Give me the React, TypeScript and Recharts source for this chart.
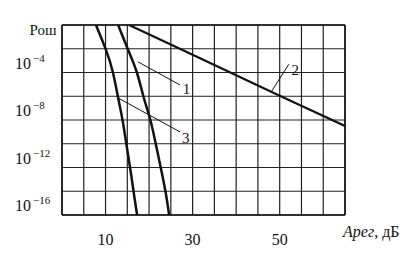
import { LineChart, Line, XAxis, YAxis, CartesianGrid, ReferenceLine, Label } from 'recharts';

// A reg, dB values, with log10(P) exponents
const curve1Db = [12.9, 15.2, 17.2, 18.8, 20.3, 21.7, 22.9, 23.9, 24.6];
const curve1Exp = [-1, -3.1, -5.0, -7.15, -9.0, -11.3, -13.4, -15.3, -17];
const curve2Db = [15.4, 30, 50, 65];
const curve2Exp = [-1, -3.5, -6.95, -9.5];
const curve3Db = [7.8, 10.1, 11.7, 12.9, 13.9, 14.9, 15.8, 16.55, 17.25];
const curve3Exp = [-1, -3.1, -5.0, -7.15, -9.0, -11.3, -13.4, -15.3, -17];

const xTicks = [10, 30, 50];
const xGrid = [0, 5, 10, 15, 20, 25, 30, 35, 40, 45, 50, 55, 60, 65];
const yTicks = [1e-4, 1e-8, 1e-12, 1e-16];
const yGrid = [1e-1, 1e-3, 1e-5, 1e-7, 1e-9, 1e-11, 1e-13, 1e-15, 1e-17];

const toRows = (db: number[], exp: number[]) => db.map((d, i) => ({ x: d, p: Math.pow(10, exp[i]) }));

const FONT = '"Liberation Serif", "DejaVu Serif", serif';

const YTick = (props: any) => {
  const { x, y, payload } = props;
  const exp = Math.round(Math.log10(payload.value));
  return (
    <text x={x - 45} y={y + 8} fontFamily={FONT} fontSize={16} fill="#111">
      <tspan>10</tspan>
      <tspan dx={2} dy={-7} fontSize={11}>{`−${-exp}`}</tspan>
    </text>
  );
};

const XTick = (props: any) => {
  const { x, y, payload } = props;
  const v = payload.value;
  return (
    <text x={x} y={y + 28} textAnchor="middle" fontFamily={FONT} fontSize={16} fill="#111">
      {v}
    </text>
  );
};

const leader = (x1: number, e1: number, x2: number, e2: number) => [
  { x: x1, y: Math.pow(10, e1) },
  { x: x2, y: Math.pow(10, e2) },
];

export default function App() {
  return (
    <div style={{ position: 'absolute', left: 0, top: 0, background: '#fff' }}>
      <LineChart width={410} height={256} margin={{ top: 25, right: 65, bottom: 0, left: 0 }}>
        <CartesianGrid
          stroke="#222"
          strokeWidth={1.2}
          horizontalValues={yGrid}
          verticalValues={xGrid}
        />
        <XAxis
          dataKey="x"
          type="number"
          domain={[0, 65]}
          ticks={xTicks}
          allowDataOverflow
          height={41}
          tickLine={false}
          tickSize={0}
          axisLine={{ stroke: '#111', strokeWidth: 1.5 }}
          tick={<XTick />}
        >
          <Label
            content={(p: any) => (
              <text x={p.viewBox.x + p.viewBox.width - 2} y={p.viewBox.y + 22} fontFamily={FONT} fontSize={16} fill="#111">
                <tspan fontStyle="italic">Арег</tspan>
                <tspan>, дБ</tspan>
              </text>
            )}
          />
        </XAxis>
        <YAxis
          dataKey="p"
          type="number"
          scale="log"
          domain={[1e-17, 1e-1]}
          allowDataOverflow
          ticks={yTicks}
          width={62}
          tickLine={false}
          tickSize={0}
          axisLine={{ stroke: '#111', strokeWidth: 1.5 }}
          tick={<YTick />}
        >
          <Label
            content={(p: any) => (
              <text x={p.viewBox.x + p.viewBox.width - 19} y={p.viewBox.y + 10} textAnchor="middle" fontFamily={FONT} fontSize={15} fill="#111">
                Рош
              </text>
            )}
          />
        </YAxis>
        <ReferenceLine y={1e-1} stroke="#111" strokeWidth={1.5} />
        <ReferenceLine x={65} stroke="#111" strokeWidth={1.5} />
        <ReferenceLine segment={leader(17.45, -4.1, 27.1, -6.05)} stroke="#111" strokeWidth={1} />
        <ReferenceLine segment={leader(12.9, -7.15, 27.1, -10.0)} stroke="#111" strokeWidth={1} />
        <ReferenceLine segment={leader(48.2, -6.55, 52.1, -4.3)} stroke="#111" strokeWidth={1} />
        <Line data={toRows(curve1Db, curve1Exp)} dataKey="p" type="natural" stroke="#111" strokeWidth={2.5} dot={false} isAnimationActive={false} />
        <Line data={toRows(curve2Db, curve2Exp)} dataKey="p" type="linear" stroke="#111" strokeWidth={2.2} dot={false} isAnimationActive={false} />
        <Line data={toRows(curve3Db, curve3Exp)} dataKey="p" type="natural" stroke="#111" strokeWidth={2.5} dot={false} isAnimationActive={false} />
        <ReferenceLine segment={leader(28.6, -6.35, 28.6, -6.35)} stroke="none" label={{ value: '1', position: 'center', fontFamily: FONT, fontSize: 15, fill: '#111' }} />
        <ReferenceLine segment={leader(28.4, -10.45, 28.4, -10.45)} stroke="none" label={{ value: '3', position: 'center', fontFamily: FONT, fontSize: 15, fill: '#111' }} />
        <ReferenceLine segment={leader(53.6, -4.75, 53.6, -4.75)} stroke="none" label={{ value: '2', position: 'center', fontFamily: FONT, fontSize: 15, fill: '#111' }} />
      </LineChart>
    </div>
  );
}
